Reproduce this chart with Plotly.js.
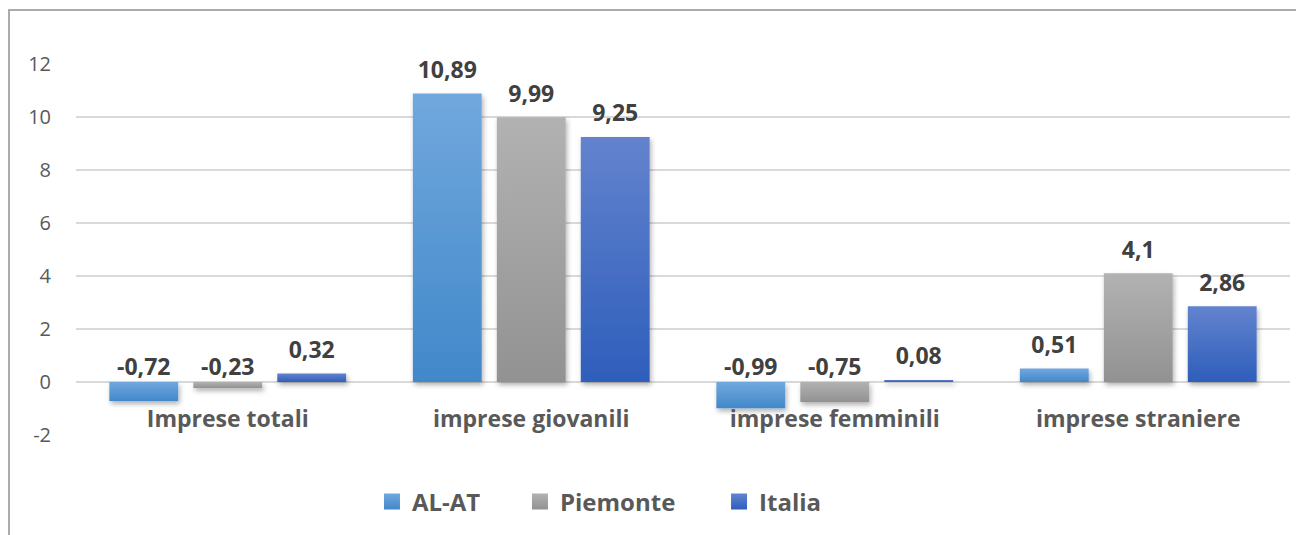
<!DOCTYPE html>
<html>
<head>
<meta charset="utf-8">
<script src="https://cdn.plot.ly/plotly-3.0.1.min.js"></script>
<style>
  html, body { margin: 0; padding: 0; background: #ffffff; }
  #wrap { position: relative; width: 1296px; height: 535px; overflow: hidden; }
  #chart { position: absolute; left: 0; top: 0; width: 1296px; height: 535px; }
  #frame { position: absolute; left: 8px; top: 9px; width: 1400px; height: 600px;
           border-left: 2px solid #ababab; border-top: 2px solid #ababab; pointer-events: none; }
</style>
</head>
<body>
<div id="wrap">
  <div id="chart"></div>
  <div id="frame"></div>
</div>
<script>
// ---- data ----
const categories = ['Imprese totali', 'imprese giovanili', 'imprese femminili', 'imprese straniere'];
const seriesNames = ['AL-AT', 'Piemonte', 'Italia'];
const alat = [-0.72, 10.89, -0.99, 0.51];
const piemonte = [-0.23, 9.99, -0.75, 4.1];
const italia = [0.32, 9.25, 0.08, 2.86];
const yTicks = [-2, 0, 2, 4, 6, 8, 10, 12];

// ---- styles ----
const seriesValues = [alat, piemonte, italia];
const solidColors = ['#5598d4', '#a2a2a2', '#4571c6'];
const gradStops = [['#71a8dd', '#4188ca'], ['#b2b2b2', '#929292'], ['#6383ce', '#2e5ebb']];
const legendIds = ['legend', 'legend2', 'legend3'];
const legendX = [0.2438, 0.3657, 0.5297];
const yRange = [-2, 12];
const fmt = v => String(v).replace('.', ',');
const FONT = 'Open Sans, sans-serif';

const traces = [];
seriesValues.forEach((vals, i) => {
  traces.push({
    type: 'bar',
    name: seriesNames[i],
    legend: legendIds[i],
    x: categories,
    y: vals,
    marker: { color: solidColors[i], line: { width: 0 } },
    hoverinfo: 'skip'
  });
});
seriesValues.forEach((vals, i) => {
  traces.push({
    type: 'scatter',
    mode: 'markers+text',
    name: seriesNames[i] + ' labels',
    showlegend: false,
    x: categories,
    y: vals.map(v => Math.max(v, 0)),
    text: vals.map(fmt),
    textposition: 'top center',
    marker: { size: vals.map(v => (v < 0 ? 1 : 14)), color: 'rgba(0,0,0,0)', opacity: 0, line: { width: 0, color: 'rgba(0,0,0,0)' } },
    textfont: { family: FONT, size: 23, color: '#404040', weight: 700 },
    cliponaxis: false,
    hoverinfo: 'skip'
  });
});

const legendBase = {
  orientation: 'h',
  xanchor: 'left',
  y: -0.18, yanchor: 'middle',
  font: { family: FONT, size: 24, color: '#595959', weight: 700 },
  bgcolor: 'rgba(0,0,0,0)'
};

const layout = {
  width: 1296,
  height: 535,
  margin: { l: 76, r: 6, t: 64, b: 100 },
  paper_bgcolor: 'rgba(0,0,0,0)',
  plot_bgcolor: 'rgba(0,0,0,0)',
  barmode: 'group',
  bargap: 0.17,
  bargroupgap: 0.18,
  scattermode: 'group',
  scattergap: 0.17,
  showlegend: true,
  xaxis: {
    type: 'category',
    anchor: 'free',
    position: (0 - yRange[0]) / (yRange[1] - yRange[0]),
    showgrid: false,
    showline: false,
    zeroline: false,
    ticks: 'outside',
    ticklen: 16,
    tickcolor: 'rgba(0,0,0,0)',
    tickfont: { family: FONT, size: 23, color: '#595959', weight: 700 }
  },
  yaxis: {
    range: yRange,
    tickvals: yTicks,
    ticktext: yTicks.map(String),
    showgrid: true,
    gridcolor: '#d9d9d9',
    gridwidth: 2,
    zeroline: true,
    zerolinecolor: '#d9d9d9',
    zerolinewidth: 2,
    showline: false,
    ticks: 'outside',
    ticklen: 20,
    tickcolor: 'rgba(0,0,0,0)',
    tickfont: { family: FONT, size: 20, color: '#595959' }
  }
};
legendIds.forEach((id, i) => {
  layout[id] = Object.assign({}, legendBase, { x: legendX[i] });
});

Plotly.newPlot('chart', traces, layout, { staticPlot: true, displayModeBar: false }).then(gd => {
  const ns = 'http://www.w3.org/2000/svg';
  const svg = gd.querySelector('svg.main-svg');
  const defs = document.createElementNS(ns, 'defs');
  gradStops.forEach((st, i) => {
    const lg = document.createElementNS(ns, 'linearGradient');
    lg.setAttribute('id', 'barGrad' + i);
    lg.setAttribute('x1', '0'); lg.setAttribute('y1', '0');
    lg.setAttribute('x2', '0'); lg.setAttribute('y2', '1');
    st.forEach((c, k) => {
      const s = document.createElementNS(ns, 'stop');
      s.setAttribute('offset', k === 0 ? '0' : '1');
      s.setAttribute('stop-color', c);
      lg.appendChild(s);
    });
    defs.appendChild(lg);
  });
  const filt = document.createElementNS(ns, 'filter');
  filt.setAttribute('id', 'barShadow');
  filt.setAttribute('filterUnits', 'userSpaceOnUse');
  filt.setAttribute('x', '-2000'); filt.setAttribute('y', '-2000');
  filt.setAttribute('width', '5000'); filt.setAttribute('height', '5000');
  const ds = document.createElementNS(ns, 'feDropShadow');
  ds.setAttribute('dx', '1.5'); ds.setAttribute('dy', '3');
  ds.setAttribute('stdDeviation', '2.5');
  ds.setAttribute('flood-color', '#000'); ds.setAttribute('flood-opacity', '0.3');
  filt.appendChild(ds);
  defs.appendChild(filt);
  svg.insertBefore(defs, svg.firstChild);

  gd.querySelectorAll('.barlayer .trace').forEach((tr, i) => {
    tr.querySelectorAll('path').forEach(p => {
      p.style.fill = 'url(#barGrad' + i + ')';
      p.setAttribute('filter', 'url(#barShadow)');
    });
  });
  legendIds.forEach((id, i) => {
    const lg = gd.querySelector('.' + id);
    if (!lg) return;
    lg.querySelectorAll('.legendpoints path').forEach(p => {
      p.style.fill = 'url(#barGrad' + i + ')';
      p.setAttribute('d', 'M8,8H-8V-8H8Z');
    });
  });
});
</script>
</body>
</html>
